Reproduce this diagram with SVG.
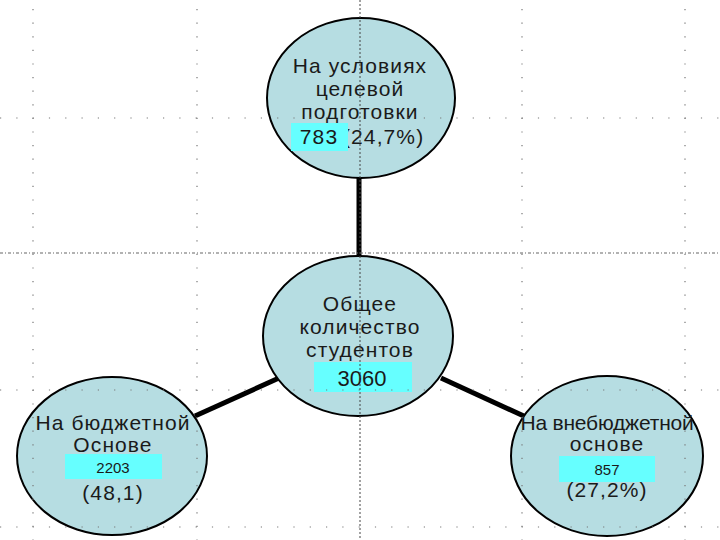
<svg xmlns="http://www.w3.org/2000/svg" width="720" height="540" viewBox="0 0 720 540">
<style>
.node{fill:#B6DDE2;stroke:#000;stroke-width:2}
.t{font-family:"Liberation Sans",Arial,sans-serif;font-size:21px;fill:#1a1a1a;text-anchor:middle;letter-spacing:1.1px}
.s{font-family:"Liberation Sans",Arial,sans-serif;font-size:15px;fill:#1a1a1a;text-anchor:middle}
.box{fill:#66FFFF}
.conn{stroke:#000;stroke-width:5;fill:none}
.gv{stroke:#777;stroke-width:1.2;stroke-dasharray:1.2 12.4;fill:none}
.gh{stroke:#777;stroke-width:1.2;stroke-dasharray:1.2 15.1;fill:none}
.gc{stroke:#444;stroke-width:1;stroke-dasharray:2 2;fill:none}
.gd{stroke:#666;stroke-width:1.2;stroke-dasharray:3 2 1 2;fill:none}
</style>
<rect width="720" height="540" fill="#fff"/>
<g id="connectors">
<line class="conn" x1="359" y1="177" x2="359" y2="256"/>
<line class="conn" x1="195" y1="416" x2="279" y2="378"/>
<line class="conn" x1="441" y1="378" x2="526" y2="417"/>
</g>
<g id="node-target">
<ellipse class="node" cx="361" cy="98" rx="94" ry="80"/>
<text class="t" x="360" y="73">На условиях</text>
<text class="t" x="360" y="96">целевой</text>
<text class="t" x="360" y="119">подготовки</text>
<text class="t" x="343" y="144" style="text-anchor:start">(24,7%)</text>
<rect class="box" x="291" y="123" width="57" height="28"/>
<text class="t" x="319" y="144">783</text>
</g>
<g id="node-total">
<ellipse class="node" cx="358" cy="336" rx="95" ry="80"/>
<text class="t" x="360" y="311">Общее</text>
<text class="t" x="360" y="334">количество</text>
<text class="t" x="360" y="357">студентов</text>
<rect class="box" x="314" y="362" width="98" height="30"/>
<text class="t" x="362" y="386" style="font-size:22px;letter-spacing:0">3060</text>
</g>
<g id="node-budget">
<ellipse class="node" cx="112" cy="456" rx="95" ry="79"/>
<text class="t" x="113" y="430">На бюджетной</text>
<text class="t" x="113" y="452">Основе</text>
<rect class="box" x="65" y="454" width="97" height="25"/>
<text class="s" x="113" y="473">2203</text>
<text class="t" x="113" y="500">(48,1)</text>
</g>
<g id="node-paid">
<ellipse class="node" cx="607" cy="456" rx="96" ry="80"/>
<text class="t" x="607" y="430" style="letter-spacing:-0.2px">На внебюджетной</text>
<text class="t" x="607" y="451">основе</text>
<rect class="box" x="559" y="456" width="96" height="26"/>
<text class="s" x="607" y="475">857</text>
<text class="t" x="607" y="497">(27,2%)</text>
</g>
<g id="grid">
<line class="gv" x1="33" y1="9" x2="33" y2="540"/>
<line class="gv" x1="197" y1="9" x2="197" y2="540"/>
<line class="gv" x1="522" y1="9" x2="522" y2="540"/>
<line class="gv" x1="685" y1="9" x2="685" y2="540"/>
<line class="gh" x1="0" y1="118" x2="720" y2="118"/>
<line class="gh" x1="0" y1="390" x2="720" y2="390"/>
<line class="gh" x1="0" y1="527" x2="720" y2="527"/>
<line class="gd" x1="0" y1="253" x2="720" y2="253"/>
<line class="gc" x1="360" y1="0" x2="360" y2="540"/>
</g>
</svg>
